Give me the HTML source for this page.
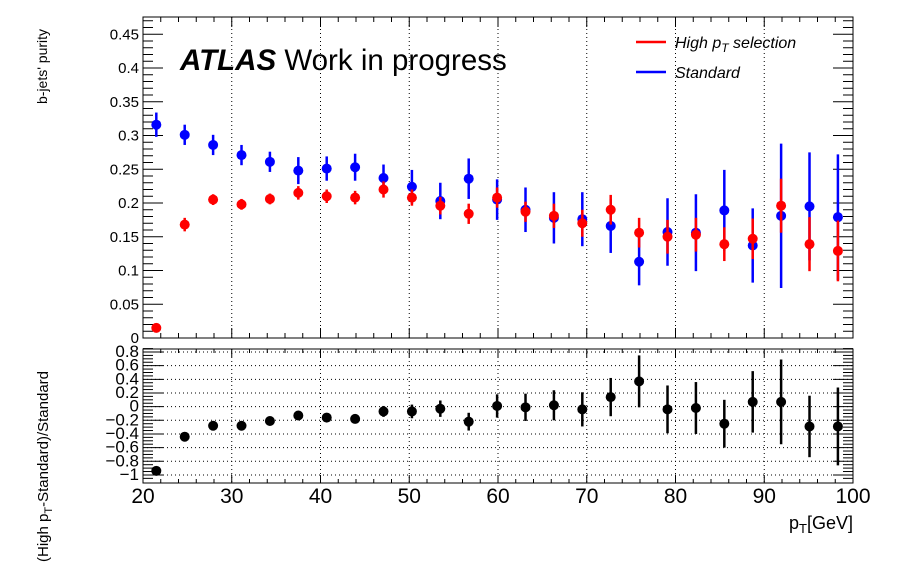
<!DOCTYPE html>
<html><head><meta charset="utf-8"><style>body{margin:0;background:#fff}svg{display:block;font-family:"Liberation Sans",sans-serif}</style></head>
<body>
<svg id="c" width="898" height="576" viewBox="0 0 898 576"></svg>
<script>
const xCenters=[21.5,24.7,27.9,31.1,34.3,37.5,40.7,43.9,47.1,50.3,53.5,56.7,59.9,63.1,66.3,69.5,72.7,75.9,79.1,82.3,85.5,88.7,91.9,95.1,98.3];
const blueVals=[0.316,0.301,0.286,0.271,0.261,0.248,0.251,0.253,0.237,0.224,0.203,0.236,0.205,0.190,0.178,0.176,0.166,0.113,0.157,0.156,0.189,0.137,0.181,0.195,0.179];
const blueErr=[0.018,0.015,0.015,0.015,0.015,0.02,0.018,0.02,0.02,0.025,0.027,0.03,0.03,0.033,0.038,0.04,0.04,0.035,0.05,0.057,0.06,0.055,0.107,0.08,0.093];
const redVals=[0.015,0.168,0.205,0.198,0.206,0.215,0.210,0.208,0.220,0.208,0.196,0.184,0.208,0.187,0.181,0.170,0.190,0.156,0.150,0.153,0.139,0.147,0.196,0.139,0.129];
const redErr=[0.004,0.01,0.008,0.008,0.008,0.01,0.01,0.01,0.012,0.012,0.013,0.015,0.015,0.015,0.018,0.02,0.022,0.022,0.025,0.025,0.025,0.03,0.04,0.04,0.045];
const ratioVals=[-0.94,-0.44,-0.28,-0.28,-0.21,-0.13,-0.16,-0.18,-0.07,-0.07,-0.03,-0.22,0.01,-0.01,0.02,-0.04,0.14,0.37,-0.04,-0.02,-0.25,0.07,0.07,-0.29,-0.29];
const ratioErr=[0.03,0.03,0.04,0.04,0.04,0.05,0.05,0.06,0.08,0.1,0.12,0.13,0.17,0.2,0.22,0.25,0.28,0.38,0.35,0.38,0.35,0.45,0.62,0.45,0.57];
const topTicks=["0","0.05","0.1","0.15","0.2","0.25","0.3","0.35","0.4","0.45"];
const botTicks=["−1","−0.8","−0.6","−0.4","−0.2","0","0.2","0.4","0.6","0.8"];
const xTicks=["20","30","40","50","60","70","80","90","100"];

const svg=document.getElementById('c');const NS='http://www.w3.org/2000/svg';
function el(t,a,txt){const e=document.createElementNS(NS,t);for(const k in a)e.setAttribute(k,a[k]);if(txt!==undefined)e.textContent=txt;svg.appendChild(e);return e;}
const L=143,R=853;
const X=v=>L+(v-20)*(R-L)/80;
const T0=338,TT=17,Y1=v=>T0-v*675;
const B0=483,BT=349,Y2=v=>352+(0.8-v)*68.3;
let f=el('rect',{x:L,y:TT,width:R-L,height:T0-TT,fill:'none',stroke:'#000','stroke-width':1});

f=el('rect',{x:L,y:BT,width:R-L,height:B0-BT,fill:'none',stroke:'#000','stroke-width':1});

for(let v=30;v<=90;v+=10){
 let g=el('line',{x1:X(v),x2:X(v),y1:TT,y2:T0,stroke:'#000','stroke-dasharray':'1,3'});
 
 g=el('line',{x1:X(v),x2:X(v),y1:BT,y2:B0,stroke:'#000','stroke-dasharray':'1,3'});
 
}
for(let i=0;i<botTicks.length;i++){const v=-1+0.2*i;
 let g=el('line',{x1:L,x2:R,y1:Y2(v),y2:Y2(v),stroke:'#000','stroke-dasharray':'1,3'});
 }
for(let v=20;v<=100;v+=2){const big=v%10==0;
 el('line',{x1:X(v),x2:X(v),y1:T0,y2:T0-(big?10:5),stroke:'#000'});
 el('line',{x1:X(v),x2:X(v),y1:TT,y2:TT+(big?10:5),stroke:'#000'});
 el('line',{x1:X(v),x2:X(v),y1:B0,y2:B0-(big?8:4),stroke:'#000'});
 el('line',{x1:X(v),x2:X(v),y1:BT,y2:BT+(big?8:4),stroke:'#000'});}
xTicks.forEach((t,i)=>{const e=el('text',{x:X(20+10*i),y:503,'font-size':21,'text-anchor':'middle'},t);
 });
for(let i=0;i<=47;i++){const v=i*0.01,big=i%5==0;
 el('line',{x1:L,x2:L+(big?20:10),y1:Y1(v),y2:Y1(v),stroke:'#000'});
 el('line',{x1:R,x2:R-(big?20:10),y1:Y1(v),y2:Y1(v),stroke:'#000'});}
topTicks.forEach((t,i)=>{const e=el('text',{x:139,y:Y1(i*0.05)+5,'font-size':15,'text-anchor':'end'},t);
 });
for(let i=-21;i<=17;i++){const v=i*0.05,big=i%4==0;
 el('line',{x1:L,x2:L+(big?20:10),y1:Y2(v),y2:Y2(v),stroke:'#000'});
 el('line',{x1:R,x2:R-(big?20:10),y1:Y2(v),y2:Y2(v),stroke:'#000'});}
botTicks.forEach((t,i)=>{const e=el('text',{x:139,y:Y2(-1+0.2*i)+5,'font-size':17,'text-anchor':'end'},t);
 });
function series(vals,errs,Y,col,name){vals.forEach((v,i)=>{
 const l=el('line',{x1:X(xCenters[i]),x2:X(xCenters[i]),y1:Y(v-errs[i]),y2:Y(v+errs[i]),stroke:col,'stroke-width':2.5});
 
 const c=el('circle',{cx:X(xCenters[i]),cy:Y(v),r:5,fill:col});
 });}
series(blueVals,blueErr,Y1,'#0000ff','standard');
series(redVals,redErr,Y1,'#ff0000','high-pt');
series(ratioVals,ratioErr,Y2,'#000','ratio');
</script>
<svg style="position:absolute;left:0;top:0" width="898" height="576">
<text x="180" y="70" font-size="29.5" font-family="Liberation Sans"><tspan font-weight="bold" font-style="italic">ATLAS</tspan> Work in progress</text>
<line x1="636" x2="666" y1="42" y2="42" stroke="#f00" stroke-width="2.5"/>
<text x="675" y="48" font-size="16" font-style="italic" font-family="Liberation Sans">High p<tspan font-size="12" dy="4">T</tspan><tspan dy="-4"> selection</tspan></text>
<line x1="636" x2="666" y1="72" y2="72" stroke="#00f" stroke-width="2.5"/>
<text x="675" y="78" font-size="16" font-style="italic" font-family="Liberation Sans">Standard</text>
<text x="853" y="529" font-size="18" text-anchor="end" font-family="Liberation Sans">p<tspan font-size="13" dy="4">T</tspan><tspan dy="-4">[GeV]</tspan></text>
<text transform="translate(47,104) rotate(-90)" font-size="14" font-family="Liberation Sans">b-jets' purity</text>
<text transform="translate(48,562) rotate(-90)" font-size="15" font-family="Liberation Sans">(High p<tspan font-size="11" dy="4">T</tspan><tspan dy="-4">-Standard)/Standard</tspan></text>
</svg>
</body></html>
